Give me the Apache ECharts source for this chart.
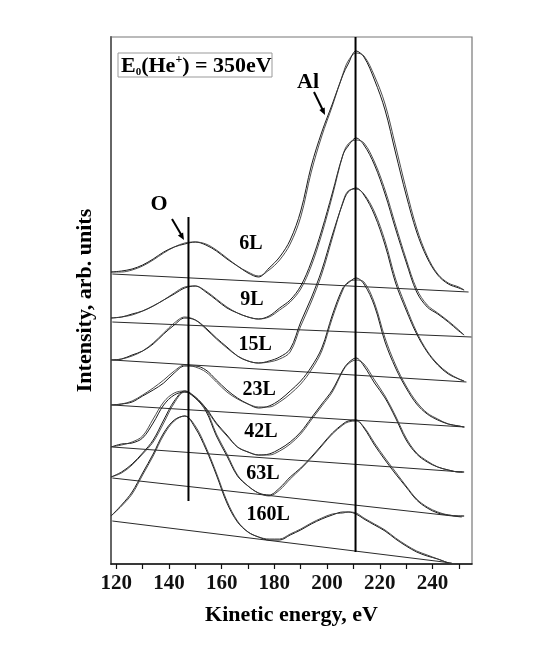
<!DOCTYPE html>
<html lang="en">
<head>
  <meta charset="UTF-8">
  <title>Ion scattering spectra</title>
  <script src="https://cdn.jsdelivr.net/npm/echarts@6/dist/echarts.min.js"></script>
  <style>
    html, body { margin: 0; padding: 0; background: #fff; }
    #chart { width: 547px; height: 660px; }
  </style>
</head>
<body>
  <div id="chart"></div>
  <script type="text/javascript">
    // kinetic energy grid, eV
    const energy = [118, 122, 126, 130, 134, 138, 142, 146, 150, 154, 158, 162, 166, 170, 174, 178, 182, 186,
      190, 194, 198, 202, 206, 208, 211, 214, 218, 222, 226, 230, 234, 238, 242, 246, 250, 252];

    const doses = ['6L', '9L', '15L', '23L', '42L', '63L', '160L'];

    // measured spectra (arb. units, stacked with offsets as in the figure)
    const spec6L = [292, 293, 295, 299, 305, 312, 317, 320, 322, 319, 313, 305, 298, 291, 287, 296, 307, 324,
      353, 398, 432, 460, 489, 500, 513, 507, 484, 454, 411, 369, 332, 306, 289, 280, 276, 274];
    const spec9L = [246, 247, 250, 253, 258, 264, 270, 276, 278, 272, 264, 256, 251, 247, 245, 248, 256, 264,
      278, 302, 334, 371, 409, 418, 426, 419, 399, 370, 335, 302, 272, 257, 250, 242, 233, 229];
    const spec15L = [204, 205, 209, 213, 220, 230, 239, 246, 244, 236, 226, 217, 208, 203, 201, 203, 207, 215,
      242, 266, 294, 329, 361, 372, 376, 369, 349, 319, 281, 254, 230, 212, 199, 190, 185, 183];
    const spec23L = [159, 160, 162, 168, 174, 181, 191, 198, 198, 194, 184, 174, 166, 160, 156, 158, 164, 173,
      183, 197, 216, 249, 276, 281, 286, 280, 258, 222, 196, 176, 160, 150, 144, 140, 138, 137];
    const spec42L = [117, 120, 121, 126, 141, 159, 169, 172, 166, 156, 141, 129, 117, 112, 109, 110, 115, 122,
      132, 146, 160, 174, 194, 201, 206, 198, 181, 166, 146, 124, 110, 102, 97, 94, 92, 92];
    const spec63L = [87, 92, 100, 111, 124, 144, 163, 173, 166, 153, 128, 108, 88, 78, 71, 69, 76, 87,
      96, 107, 119, 131, 140, 143, 144, 136, 119, 104, 90, 77, 64, 56, 51, 49, 48, 48];
    const spec160L = [48, 59, 72, 91, 110, 131, 144, 148, 136, 115, 89, 61, 42, 32, 27, 24, 24, 29,
      34, 40, 45, 49, 52, 52, 50, 45, 39, 33, 25, 18, 12, 8, 5, 1, null, null];

    // fitted curves (second, nearly coincident line)
    const fit6L = [292, 292, 294, 298, 304, 311, 317, 321, 322, 320, 314, 306, 298, 292, 288, 294, 304, 320,
      347, 392, 428, 458, 490, 503, 511, 508, 488, 460, 418, 375, 336, 308, 290, 281, 277, 274];
    const fit9L = [246, 247, 249, 253, 258, 264, 271, 277, 278, 273, 265, 257, 251, 247, 245, 247, 254, 262,
      275, 298, 330, 368, 409, 420, 424, 421, 402, 374, 339, 305, 275, 259, 251, 243, 234, 229];
    const fit15L = [204, 205, 208, 213, 221, 231, 241, 247, 244, 235, 225, 216, 208, 203, 201, 202, 205, 212,
      238, 262, 290, 326, 362, 373, 375, 370, 352, 323, 285, 257, 232, 213, 200, 191, 185, 183];
    const fit23L = [159, 160, 163, 169, 176, 184, 193, 199, 197, 192, 182, 172, 165, 160, 157, 157, 162, 170,
      180, 194, 213, 246, 274, 282, 284, 282, 261, 226, 199, 178, 162, 151, 145, 140, 138, 137];
    const fit42L = [117, 119, 122, 128, 145, 162, 171, 173, 167, 155, 140, 128, 117, 112, 109, 109, 113, 120,
      130, 144, 158, 172, 193, 200, 204, 200, 184, 168, 148, 126, 111, 103, 97, 94, 92, 92];
    const fit63L = [87, 91, 99, 110, 122, 141, 161, 172, 167, 155, 130, 110, 89, 78, 71, 68, 74, 85,
      95, 106, 118, 130, 139, 142, 143, 137, 121, 106, 92, 78, 65, 57, 52, 49, 48, 48];
    const fit160L = [48, 58, 70, 89, 108, 129, 143, 148, 138, 117, 91, 63, 43, 32, 27, 25, 25, 30,
      35, 41, 46, 50, 51, 52, 51, 46, 40, 34, 26, 19, 13, 9, 5, 1, null, null];

    // linear backgrounds: start at 118.5 eV, end at baseEndX
    const baseStartX = 118.5;
    const baseStartY = [290, 242, 204, 159, 117, 86, 43];
    const baseEndX = [253.7, 254.8, 252.9, 252.2, 251.4, 251.1, 247.3];
    const baseEndY = [272, 227, 182, 137, 92, 47, 1];

    // peak positions marked by vertical lines (O, Al) and their extent
    const peakEnergy = [147.4, 210.8];
    const peakFrom = [63, 12];
    const peakTo = [347, 527];

    // dose label anchors
    const labelEnergy = [171.1, 171.5, 172.7, 174.2, 174.9, 175.7, 177.6];
    const labelLevel = [320, 264, 219, 174, 132, 90, 49];

    const xTicks = [120, 130, 140, 150, 160, 170, 180, 190, 200, 210, 220, 230, 240, 250];
    const xLabels = [120, 140, 160, 180, 200, 220, 240];

    const measured = [spec6L, spec9L, spec15L, spec23L, spec42L, spec63L, spec160L];
    const fitted = [fit6L, fit9L, fit15L, fit23L, fit42L, fit63L, fit160L];

    const serif = '"Liberation Serif", "DejaVu Serif", serif';
    const zip = (ys) => energy.map((x, i) => [x, ys[i]]);

    const series = [];
    doses.forEach((dose, i) => {
      series.push({
        type: 'line',
        data: [[baseStartX, baseStartY[i]], [baseEndX[i], baseEndY[i]]],
        symbol: 'none',
        lineStyle: { color: '#2a2a2a', width: 1 },
      });
      series.push({
        type: 'line',
        data: zip(measured[i]),
        symbol: 'none',
        smooth: 0.35,
        lineStyle: { color: '#1a1a1a', width: 1 },
      });
      series.push({
        type: 'line',
        data: zip(fitted[i]),
        symbol: 'none',
        smooth: 0.35,
        lineStyle: { color: '#3a3a3a', width: 0.9 },
      });
    });

    peakEnergy.forEach((e, i) => {
      series.push({
        type: 'line',
        data: [[e, peakFrom[i]], [e, peakTo[i]]],
        symbol: 'none',
        lineStyle: { color: '#000', width: 2 },
      });
    });

    series.push({
      type: 'scatter',
      symbolSize: 1,
      itemStyle: { color: 'rgba(0,0,0,0)' },
      data: labelEnergy.map((x, i) => [x, labelLevel[i]]),
      label: {
        show: true,
        position: 'inside',
        formatter: (p) => doses[p.dataIndex],
        fontFamily: serif,
        fontWeight: 'bold',
        fontSize: 20,
        color: '#000',
        textBorderWidth: 0,
        opacity: 1,
      },
    });

    const chart = echarts.init(document.getElementById('chart'));
    chart.setOption({
      animation: false,
      grid: {
        left: 111, right: 75, top: 37, bottom: 96,
        show: true, borderColor: '#777', borderWidth: 1.2,
      },
      xAxis: {
        type: 'value',
        min: 118,
        max: 255,
        name: 'Kinetic energy, eV',
        nameLocation: 'middle',
        nameGap: 40,
        nameTextStyle: { fontFamily: serif, fontWeight: 'bold', fontSize: 22, color: '#000' },
        axisLine: { lineStyle: { color: '#111', width: 1.5 } },
        axisTick: { customValues: xTicks, length: 5, lineStyle: { color: '#111', width: 1.2 } },
        axisLabel: {
          customValues: xLabels,
          margin: 9,
          fontFamily: serif,
          fontWeight: 'bold',
          fontSize: 21,
          color: '#111',
        },
        splitLine: { show: false },
      },
      yAxis: {
        type: 'value',
        min: 0,
        max: 527,
        name: 'Intensity, arb. units',
        nameLocation: 'middle',
        nameRotate: 90,
        nameGap: 15,
        nameTextStyle: { fontFamily: serif, fontWeight: 'bold', fontSize: 22, color: '#000' },
        axisLine: { show: true, lineStyle: { color: '#666', width: 2 } },
        axisTick: { show: false },
        axisLabel: { show: false },
        splitLine: { show: false },
      },
      graphic: [
        {
          type: 'rect',
          shape: { x: 118, y: 53, width: 154, height: 24 },
          style: { fill: 'none', stroke: '#999', lineWidth: 1 },
        },
        {
          type: 'text',
          x: 121, y: 54,
          style: {
            text: '{n|E}{s|0}{n|(He}{p|+}{n|) = 350eV}',
            rich: {
              n: { fontFamily: serif, fontWeight: 'bold', fontSize: 22, lineHeight: 24, fill: '#000' },
              s: { fontFamily: serif, fontWeight: 'bold', fontSize: 11, lineHeight: 24, verticalAlign: 'bottom', padding: [8, 0, 0, 0], fill: '#000' },
              p: { fontFamily: serif, fontWeight: 'bold', fontSize: 12, lineHeight: 24, verticalAlign: 'top', padding: [0, 0, 8, 0], fill: '#000' },
            },
          },
        },
        {
          type: 'text', x: 159, y: 204,
          style: { text: 'O', fontFamily: serif, fontWeight: 'bold', fontSize: 22, fill: '#000', align: 'center', verticalAlign: 'middle' },
        },
        {
          type: 'text', x: 308, y: 82,
          style: { text: 'Al', fontFamily: serif, fontWeight: 'bold', fontSize: 22, fill: '#000', align: 'center', verticalAlign: 'middle' },
        },
        {
          type: 'line',
          shape: { x1: 172, y1: 219, x2: 182, y2: 236 },
          style: { stroke: '#000', lineWidth: 2 },
        },
        {
          type: 'polygon',
          shape: { points: [[184, 240], [177.9, 235.4], [183.1, 232.4]] },
          style: { fill: '#000' },
        },
        {
          type: 'line',
          shape: { x1: 314, y1: 92, x2: 323.5, y2: 111.5 },
          style: { stroke: '#000', lineWidth: 2 },
        },
        {
          type: 'polygon',
          shape: { points: [[325, 115], [319.3, 110], [324.7, 107.4]] },
          style: { fill: '#000' },
        },
      ],
      series,
    });
  </script>
</body>
</html>
